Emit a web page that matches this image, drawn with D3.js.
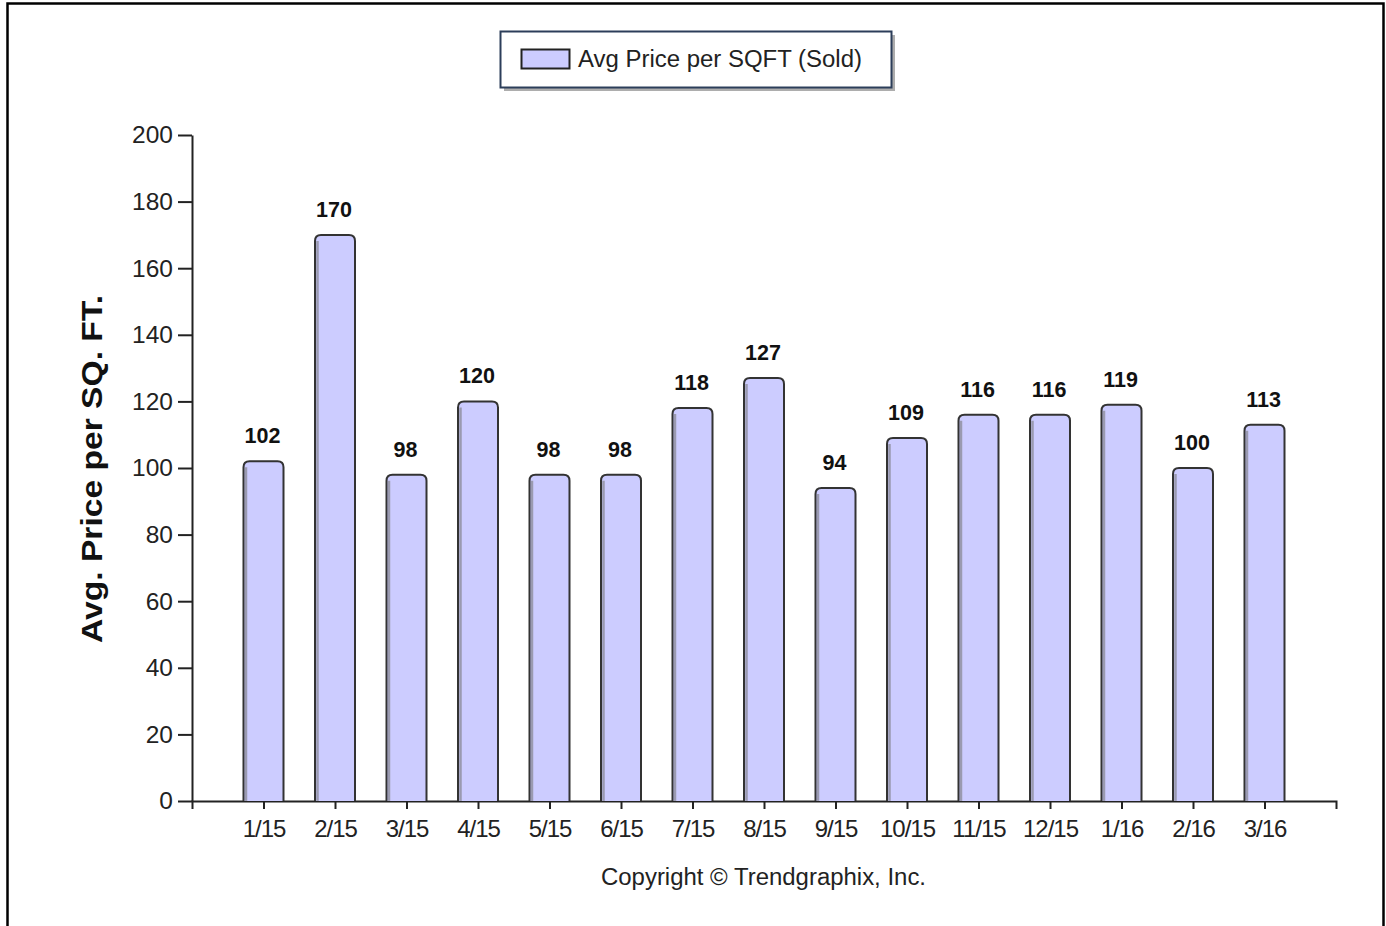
<!DOCTYPE html>
<html><head><meta charset="utf-8">
<script src="https://cdn.jsdelivr.net/npm/d3@7"></script>
<style>body{margin:0;background:#fff}</style>
</head><body>
<svg id="c" width="1386" height="926"></svg>
<script>
const categories = ["1/15","2/15","3/15","4/15","5/15","6/15","7/15","8/15","9/15","10/15","11/15","12/15","1/16","2/16","3/16"];
const values = [102,170,98,120,98,98,118,127,94,109,116,116,119,100,113];
const yTicks = [0,20,40,60,80,100,120,140,160,180,200];
const seriesName = "Avg Price per SQFT (Sold)";
const yTitle = "Avg. Price per SQ. FT.";
const copyright = "Copyright \u00A9 Trendgraphix, Inc.";

(function(){
const svg = d3.select("#c");
const font = "'Liberation Sans', Arial, sans-serif";
const pLeft = 192, pRight = 1336, pTop = 135, pBottom = 801;

// frame
svg.append("rect").attr("x",7.5).attr("y",3.5).attr("width",1376).attr("height",940)
  .attr("fill","none").attr("stroke","#000").attr("stroke-width",2.5);

const x = d3.scaleLinear().domain([0, categories.length + 1]).range([pLeft, pRight]);
const y = d3.scaleLinear().domain([0, 200]).range([pBottom, pTop]);

// y axis
const ya = svg.append("g").attr("transform",`translate(${pLeft},0)`)
  .call(d3.axisLeft(y).tickValues(yTicks).tickSize(14).tickPadding(5).tickSizeOuter(0));
ya.select(".domain").attr("stroke","#222").attr("stroke-width",2);
ya.selectAll(".tick line").attr("stroke","#222").attr("stroke-width",2);
ya.selectAll("text").attr("font-family",font).attr("font-size",24.5).attr("fill","#222");

// x axis
const xa = svg.append("g").attr("transform",`translate(0,${pBottom})`)
  .call(d3.axisBottom(x).tickValues(d3.range(1, categories.length+1))
    .tickFormat(i => categories[i-1]).tickSize(8).tickPadding(11).tickSizeOuter(8));
xa.select(".domain").attr("stroke","#222").attr("stroke-width",2);
xa.selectAll(".tick line").attr("stroke","#222").attr("stroke-width",2);
xa.selectAll("text").attr("font-family",font).attr("font-size",24).attr("fill","#222").attr("letter-spacing",-1);

// bars
const bw = 40, r = 6;
const barPath = (cx, v) => {
  const x0 = cx - bw/2, x1 = cx + bw/2, yt = y(v), yb = y(0);
  return `M${x0},${yb} L${x0},${yt+r} Q${x0},${yt} ${x0+r},${yt} L${x1-r},${yt} Q${x1},${yt} ${x1},${yt+r} L${x1},${yb}`;
};
const bars = svg.append("g");
values.forEach((v,i) => {
  const cx = x(i+1);
  bars.append("path").attr("d", barPath(cx, v)).attr("fill","#ccccff").attr("stroke","none");
  bars.append("line").attr("x1",cx-bw/2+2.5).attr("x2",cx-bw/2+2.5).attr("y1",y(v)+r).attr("y2",y(0))
    .attr("stroke","#9a9ab0").attr("stroke-width",2.5);
  bars.append("path").attr("d", barPath(cx, v)).attr("fill","none").attr("stroke","#333").attr("stroke-width",2);
  bars.append("text").attr("x",cx - 1).attr("y",y(v)-18).attr("text-anchor","middle")
    .attr("font-family",font).attr("font-weight","bold").attr("font-size",21.5).attr("fill","#111").text(v);
});

// y title
svg.append("text").attr("transform","translate(102,469) rotate(-90)").attr("text-anchor","middle")
  .attr("font-family",font).attr("font-weight","bold").attr("font-size",30).attr("fill","#111")
  .attr("textLength",348).attr("lengthAdjust","spacingAndGlyphs").text(yTitle);

// legend
const lg = svg.append("g");
lg.append("rect").attr("x",504).attr("y",35).attr("width",391).attr("height",56).attr("fill","#777").attr("opacity",0.6);
lg.append("rect").attr("x",500.5).attr("y",31.5).attr("width",391).attr("height",56).attr("fill","#fff").attr("stroke","#2c3e5a").attr("stroke-width",2);
lg.append("rect").attr("x",521.5).attr("y",49.5).attr("width",48).attr("height",19).attr("fill","#ccccff").attr("stroke","#222").attr("stroke-width",2);
lg.append("text").attr("x",578).attr("y",67).attr("font-family",font).attr("font-size",23.5).attr("fill","#222")
  .attr("textLength",284).attr("lengthAdjust","spacingAndGlyphs").text(seriesName);

// copyright
svg.append("text").attr("x",601).attr("y",885).attr("text-anchor","start")
  .attr("font-family",font).attr("font-size",23).attr("fill","#222")
  .attr("textLength",325).attr("lengthAdjust","spacingAndGlyphs").text(copyright);
})();
</script>
</body></html>
